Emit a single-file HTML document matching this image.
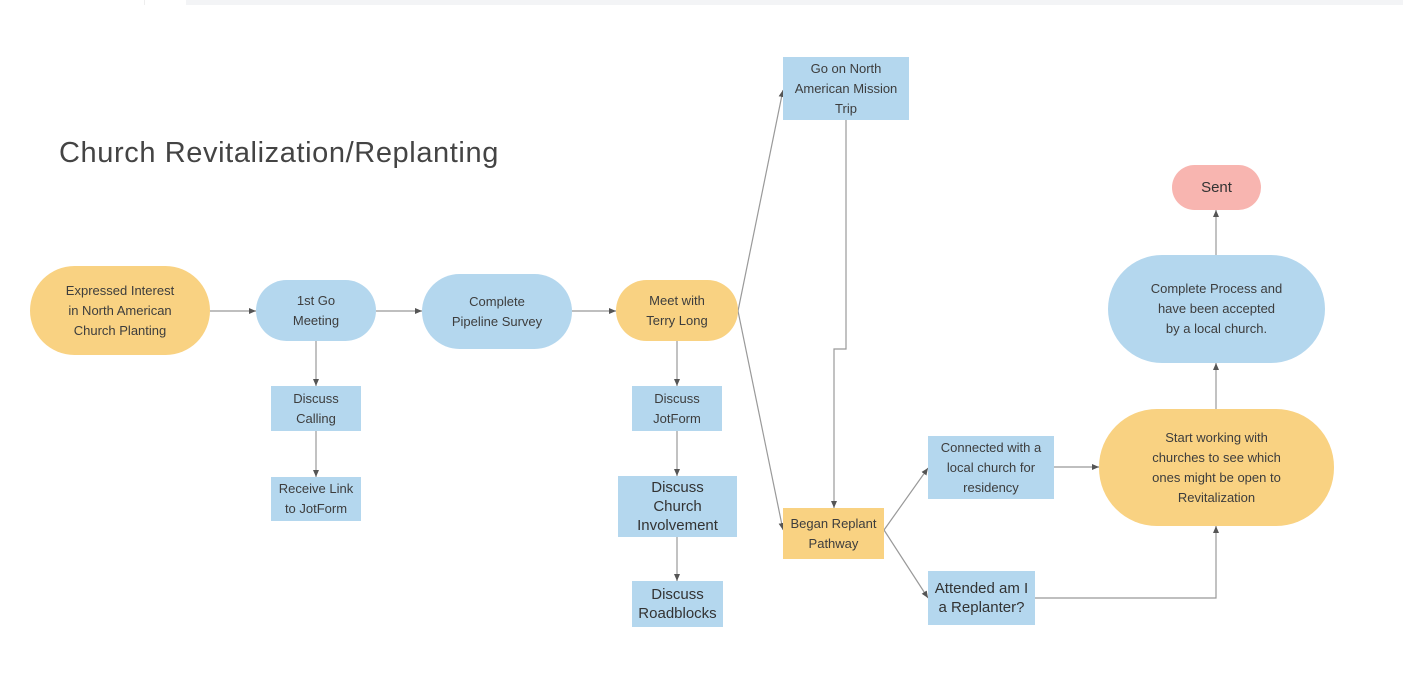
<!DOCTYPE html>
<html><head><meta charset="utf-8"><style>
body{margin:0;width:1403px;height:674px;background:#fff;position:relative;overflow:hidden;font-family:"Liberation Sans",sans-serif;}
.n{position:absolute;display:flex;align-items:center;justify-content:center;text-align:center;font-size:13px;line-height:20px;color:#3d3d3d;box-sizing:border-box;}
.y{background:#f9d282;}
.b{background:#b4d7ee;}
.p{background:#f8b5b0;}
.a{font-size:15px;line-height:19px;color:#333;}
svg{position:absolute;left:0;top:0;}
</style></head><body>
<div style="position:absolute;left:186px;top:0;width:1217px;height:5px;background:#f3f4f6"></div>
<div style="position:absolute;left:144px;top:0;width:1px;height:5px;background:#eee"></div>
<div style="position:absolute;left:59px;top:137px;font-size:29px;letter-spacing:0.6px;color:#444;">Church Revitalization/Replanting</div>
<svg width="1403" height="674">
<defs><marker id="ar" markerWidth="8" markerHeight="8" refX="7" refY="4" orient="auto" markerUnits="userSpaceOnUse"><path d="M0,1 L7,4 L0,7 z" fill="#555"/></marker></defs>
<g stroke="#999" stroke-width="1.2" fill="none" marker-end="url(#ar)">
<path d="M210,311 H256"/>
<path d="M376,311 H422"/>
<path d="M572,311 H616"/>
<path d="M316,341 V386"/>
<path d="M316,431 V477"/>
<path d="M677,341 V386"/>
<path d="M677,431 V476"/>
<path d="M677,537 V581"/>
<path d="M738,311 L783,90"/>
<path d="M738,311 L783,530"/>
<path d="M846,120 V349 H834 V508"/>
<path d="M884,530 L928,468"/>
<path d="M884,530 L928,598"/>
<path d="M1054,467 H1099"/>
<path d="M1035,598 H1216 V526"/>
<path d="M1216,409 V363"/>
<path d="M1216,255 V210"/>
</g>
</svg>
<div class="n y" style="left:30px;top:266px;width:180px;height:89px;border-radius:45px;">Expressed Interest<br>in North American<br>Church Planting</div>
<div class="n b" style="left:256px;top:280px;width:120px;height:61px;border-radius:31px;">1st Go<br>Meeting</div>
<div class="n b" style="left:422px;top:274px;width:150px;height:75px;border-radius:38px;">Complete<br>Pipeline Survey</div>
<div class="n y" style="left:616px;top:280px;width:122px;height:61px;border-radius:31px;">Meet with<br>Terry Long</div>
<div class="n b" style="left:271px;top:386px;width:90px;height:45px;">Discuss<br>Calling</div>
<div class="n b" style="left:271px;top:477px;width:90px;height:44px;">Receive Link<br>to JotForm</div>
<div class="n b" style="left:632px;top:386px;width:90px;height:45px;">Discuss<br>JotForm</div>
<div class="n b a" style="left:618px;top:476px;width:119px;height:61px;">Discuss<br>Church<br>Involvement</div>
<div class="n b a" style="left:632px;top:581px;width:91px;height:46px;">Discuss<br>Roadblocks</div>
<div class="n b" style="left:783px;top:57px;width:126px;height:63px;">Go on North<br>American Mission<br>Trip</div>
<div class="n y" style="left:783px;top:508px;width:101px;height:51px;">Began Replant<br>Pathway</div>
<div class="n b" style="left:928px;top:436px;width:126px;height:63px;">Connected with a<br>local church for<br>residency</div>
<div class="n b a" style="left:928px;top:571px;width:107px;height:54px;">Attended am I<br>a Replanter?</div>
<div class="n y" style="left:1099px;top:409px;width:235px;height:117px;border-radius:58px;">Start working with<br>churches to see which<br>ones might be open to<br>Revitalization</div>
<div class="n b" style="left:1108px;top:255px;width:217px;height:108px;border-radius:54px;">Complete Process and<br>have been accepted<br>by a local church.</div>
<div class="n p a" style="left:1172px;top:165px;width:89px;height:45px;border-radius:23px;">Sent</div>
</body></html>
